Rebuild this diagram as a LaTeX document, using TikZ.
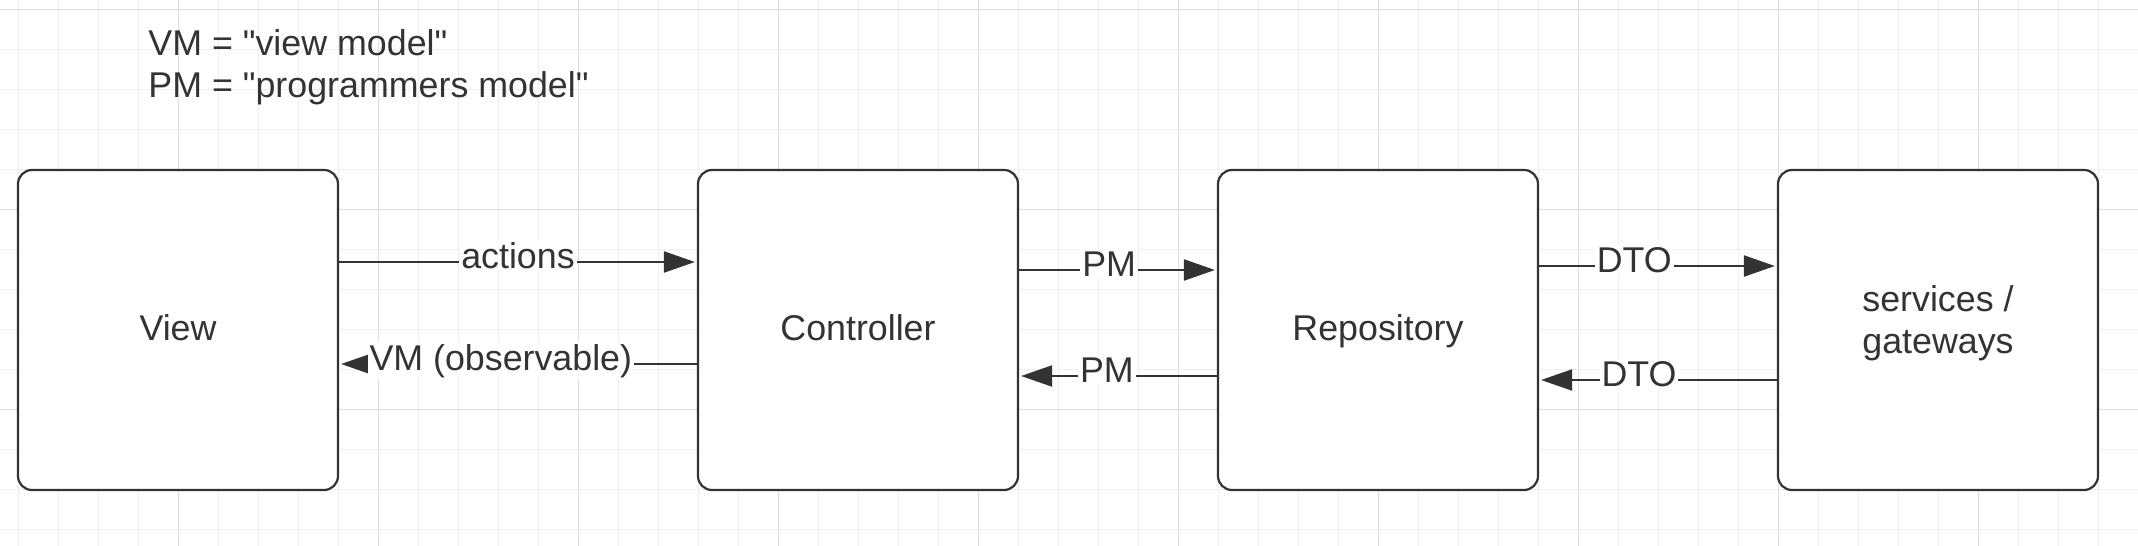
\documentclass[tikz,border=0pt]{standalone}
\usepackage{fontspec}
\setmainfont{Liberation Sans}
\usetikzlibrary{arrows.meta}
\definecolor{ink}{HTML}{333333}
\definecolor{gridminor}{HTML}{EEEEEE}
\definecolor{gridmajor}{HTML}{DEDEDE}
\begin{document}
\begin{tikzpicture}[x=0.5pt,y=-0.5pt,
  every node/.style={font=\fontsize{17.9}{21}\selectfont, text=ink},
  box/.style={draw=ink, line width=1.1pt, rounded corners=7pt, fill=white,
    minimum width=160pt, minimum height=160pt, align=center, inner sep=0pt,
    text height=13pt, text depth=3pt},
  arr/.style={draw=ink, line width=1.1pt, -{Triangle[length=15.5pt,width=10.5pt]}, shorten >=1pt},
  lbl/.style={fill=white, inner xsep=1pt, inner ysep=1pt, anchor=base, yshift=-3pt},
  legend/.style={anchor=base west, inner sep=0pt},
  gminor/.style={gridminor, line width=0.5pt},
  gmajor/.style={gridmajor, line width=0.5pt}]
\useasboundingbox (0,0) rectangle (2138,546);
\fill[white] (0,0) rectangle (2138,546);
% grid
\foreach \x in {18,58,...,2138} \draw[gminor] (\x,0) -- (\x,546);
\foreach \y in {9,49,...,546} \draw[gminor] (0,\y) -- (2138,\y);
\foreach \x in {178,378,...,2138} \draw[gmajor] (\x,0) -- (\x,546);
\foreach \y in {9,209,409} \draw[gmajor] (0,\y) -- (2138,\y);
% legend
\node[legend] (leg1) at (148,55) {VM = \textquotedbl view model\textquotedbl};
\node[legend] (leg2) at (148,97) {PM = \textquotedbl programmers model\textquotedbl};
% boxes
\node[box] (view) at (178,330) {View};
\node[box] (ctrl) at (858,330) {Controller};
\node[box] (repo) at (1378,330) {Repository};
\node[box] (serv) at (1938,330) {};
\node[align=center, inner sep=0pt] (servtext) at ([yshift=3.5pt]serv.center) {services /\\gateways};
% connectors
\draw[arr] (view.east |- 0,262) -- node[lbl, pos=0.5] {actions} (ctrl.west |- 0,262);
\draw[arr] (ctrl.west |- 0,364) -- node[lbl, pos=0.548] {VM (observable)} (view.east |- 0,364);
\draw[arr] (ctrl.east |- 0,270) -- node[lbl, pos=0.455] {PM} (repo.west |- 0,270);
\draw[arr] (repo.west |- 0,376) -- node[lbl, pos=0.556] {PM} (ctrl.east |- 0,376);
\draw[arr] (repo.east |- 0,266) -- node[lbl, pos=0.40] {DTO} (serv.west |- 0,266);
\draw[arr] (serv.west |- 0,380) -- node[lbl, pos=0.58] {DTO} (repo.east |- 0,380);
\end{tikzpicture}
\end{document}
